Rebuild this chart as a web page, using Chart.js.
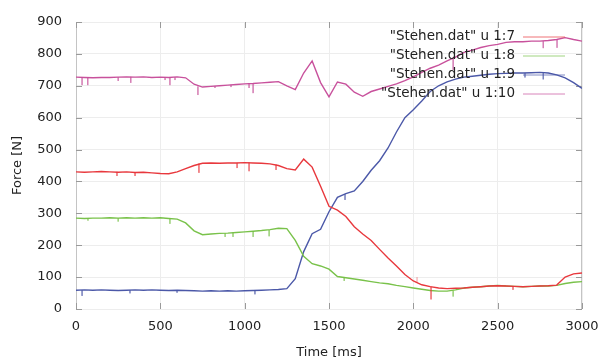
<!DOCTYPE html>
<html lang="de">
<head>
<meta charset="UTF-8">
<title>Stehen.dat</title>
<script src="https://cdn.jsdelivr.net/npm/chart.js"></script>
<style>
    html, body { margin: 0; padding: 0; background: #ffffff; }
    #wrap { width: 604px; height: 363px; }
</style>
</head>
<body>
<div id="wrap"><canvas id="forceChart" width="604" height="363"></canvas></div>
<script>
// time axis (ms), 50 ms steps
const timeMs = [
    0, 50, 100, 150, 200, 250, 300, 350, 400, 450,
    500, 550, 600, 650, 700, 750, 800, 850, 900, 950,
    1000, 1050, 1100, 1150, 1200, 1250, 1300, 1350, 1400, 1450,
    1500, 1550, 1600, 1650, 1700, 1750, 1800, 1850, 1900, 1950,
    2000, 2050, 2100, 2150, 2200, 2250, 2300, 2350, 2400, 2450,
    2500, 2550, 2600, 2650, 2700, 2750, 2800, 2850, 2900, 2950,
    3000
];

// "Stehen.dat" u 1:7
const col7 = [
    430, 429, 430, 431, 430, 429, 430, 428, 429, 427,
    425, 424, 430, 440, 450, 457, 458, 457, 458, 458,
    459, 458, 457, 455, 450, 440, 436, 470, 445, 385,
    322, 310, 290, 258, 235, 215, 187, 160, 135, 108,
    88, 76, 70, 66, 64, 65, 66, 68, 70, 72,
    73, 72, 71, 70, 71, 72, 73, 75, 100, 110,
    113
];

// "Stehen.dat" u 1:8
const col8 = [
    285, 284, 285, 285, 286, 285, 286, 285, 286, 285,
    286, 284, 282, 270, 245, 233, 235, 237, 238, 240,
    242, 244, 246, 249, 253, 252, 215, 165, 142, 135,
    125, 102, 98, 94, 90, 86, 82, 79, 74, 70,
    66, 62, 58, 56, 56, 60, 66, 68, 70, 72,
    74, 72, 71, 70, 71, 72, 72, 74, 80, 84,
    86
];

// "Stehen.dat" u 1:9
const col9 = [
    59, 60, 59, 60, 59, 58, 59, 60, 59, 60,
    59, 58, 59, 58, 57, 56, 57, 56, 57, 56,
    57, 58, 59, 60, 61, 64, 95, 180, 236, 250,
    305, 350, 362, 370, 400, 435, 465, 505, 555, 600,
    625, 652, 682, 700, 712, 721, 727, 730, 733, 736,
    738, 739, 740, 740, 741, 742, 740, 734, 725, 710,
    692
];

// "Stehen.dat" u 1:10
const col10 = [
    727, 726, 725, 726, 726, 727, 728, 727, 728, 726,
    727, 726, 728, 725, 705, 696, 698, 700, 702, 704,
    706, 707, 709, 711, 713, 700, 688, 740, 778, 710,
    665, 712, 705, 680, 667, 682, 690, 698, 706, 716,
    728, 742, 755, 765, 778, 790, 805, 812, 820, 826,
    830, 836, 838, 838, 840, 840, 842, 845, 851, 845,
    840
];

// short sensor spikes: [time, line value, spike tip]
const spikes7 = [[243, 430, 417], [350, 429, 417], [729, 456, 427], [955, 458, 442], [1026, 459, 432], [1186, 453, 436], [2022, 84, 100], [2105, 70, 30], [2591, 71, 60]];
const spikes8 = [[71, 285, 277], [250, 285, 274], [557, 284, 267], [884, 238, 226], [931, 240, 226], [1050, 244, 226], [1145, 248, 228], [1590, 99, 88], [2236, 58, 39]];
const spikes9 = [[36, 59, 41], [320, 59, 49], [599, 59, 51], [1061, 58, 46], [1595, 360, 342], [2662, 740, 726], [2770, 742, 720]];
const spikes10 = [[36, 727, 702], [70, 726, 702], [250, 727, 715], [325, 728, 709], [528, 727, 718], [557, 726, 702], [587, 727, 718], [723, 698, 671], [824, 699, 693], [919, 703, 696], [1026, 706, 693], [1050, 707, 677], [2236, 788, 750], [2770, 840, 818], [2852, 845, 819]];

const seriesNames = ['"Stehen.dat" u 1:7', '"Stehen.dat" u 1:8', '"Stehen.dat" u 1:9', '"Stehen.dat" u 1:10'];
const seriesColors = ['#e8383d', '#79c24a', '#4b58a8', '#c8519c'];
const spikeColors = ['rgba(232,56,61,0.5)', 'rgba(121,194,74,0.5)', 'rgba(75,88,168,0.5)', 'rgba(200,81,156,0.5)'];
const seriesValues = [col7, col8, col9, col10];
const seriesSpikes = [spikes7, spikes8, spikes9, spikes10];

const xTicks = [0, 500, 1000, 1500, 2000, 2500, 3000];
const yTicks = [0, 100, 200, 300, 400, 500, 600, 700, 800, 900];

const FONT = '"DejaVu Sans", Verdana, sans-serif';
const TEXT = '#222222';

// gnuplot-style key, text right-aligned with the sample line after it
const keyPlugin = {
    id: 'gnuKey',
    afterDraw(chart) {
        const { ctx, chartArea } = chart;
        ctx.save();
        ctx.font = '13.5px ' + FONT;
        ctx.textAlign = 'right';
        ctx.textBaseline = 'middle';
        chart.data.datasets.filter(ds => !ds.isSpike).forEach((ds, i) => {
            const y = chartArea.top + 14 + i * 19;
            const right = chartArea.right - 67;
            ctx.fillStyle = TEXT;
            ctx.fillText(ds.label, right, y);
            ctx.strokeStyle = ds.borderColor;
            ctx.globalAlpha = 0.7;
            ctx.lineWidth = 1;
            ctx.beginPath();
            ctx.moveTo(right + 8, y + 1);
            ctx.lineTo(right + 50, y + 1);
            ctx.stroke();
            ctx.globalAlpha = 1;
        });
        ctx.restore();
    }
};

// side borders and inward tick marks (mirrored)
const framePlugin = {
    id: 'frame',
    beforeDatasetsDraw(chart) {
        const { ctx, chartArea, scales } = chart;
        const { left, right, top, bottom } = chartArea;
        ctx.save();
        ctx.strokeStyle = '#c4c4c4';
        ctx.lineWidth = 1;
        ctx.beginPath();
        ctx.moveTo(left + 0.5, top); ctx.lineTo(left + 0.5, bottom);
        ctx.moveTo(right - 0.5, top); ctx.lineTo(right - 0.5, bottom);
        ctx.stroke();
        ctx.strokeStyle = '#9a9a9a';
        ctx.beginPath();
        xTicks.forEach(v => {
            const x = Math.round(scales.x.getPixelForValue(v)) + 0.5;
            ctx.moveTo(x, bottom); ctx.lineTo(x, bottom - 6);
            ctx.moveTo(x, top); ctx.lineTo(x, top + 6);
        });
        yTicks.forEach(v => {
            const y = Math.round(scales.y.getPixelForValue(v)) + 0.5;
            ctx.moveTo(left, y); ctx.lineTo(left + 6, y);
            ctx.moveTo(right, y); ctx.lineTo(right - 6, y);
        });
        ctx.stroke();
        ctx.restore();
    }
};

const lineSets = seriesValues.map((vals, i) => ({
    label: seriesNames[i],
    data: timeMs.map((t, j) => ({ x: t, y: vals[j] })),
    borderColor: seriesColors[i],
    borderWidth: 1.4,
    pointRadius: 0,
    tension: 0,
    fill: false
}));

// spikes drawn as separate thin strokes, broken by nulls
const spikeSets = seriesSpikes.map((list, i) => ({
    label: seriesNames[i] + ' spikes',
    isSpike: true,
    data: list.flatMap(s => [{ x: s[0], y: s[1] }, { x: s[0], y: s[2] }, { x: s[0], y: null }]),
    borderColor: spikeColors[i],
    borderWidth: 1,
    pointRadius: 0,
    spanGaps: false,
    fill: false
}));

new Chart(document.getElementById('forceChart'), {
    type: 'line',
    data: { datasets: spikeSets.concat(lineSets) },
    options: {
        responsive: false,
        devicePixelRatio: 1,
        animation: false,
        layout: { padding: { top: 22, right: 22, left: 0, bottom: 0 } },
        plugins: {
            legend: { display: false },
            tooltip: { enabled: false }
        },
        scales: {
            x: {
                type: 'linear',
                min: 0,
                max: 3000,
                afterBuildTicks: s => { s.ticks = xTicks.map(v => ({ value: v })); },
                afterFit: s => { s.height = 54; s.paddingLeft = 0; s.paddingRight = 0; },
                grid: { color: '#ededed', drawTicks: false },
                border: { display: false },
                ticks: { padding: 10, color: TEXT, font: { family: FONT, size: 13 }, callback: v => String(v) },
                title: { display: true, text: 'Time [ms]', color: TEXT, font: { family: FONT, size: 13 }, padding: { top: 0, bottom: 3 } }
            },
            y: {
                type: 'linear',
                min: 0,
                max: 900,
                afterBuildTicks: s => { s.ticks = yTicks.map(v => ({ value: v })); },
                afterFit: s => { s.width = 76; },
                grid: { color: '#ededed', drawTicks: false },
                border: { display: false },
                ticks: { padding: 14, color: TEXT, font: { family: FONT, size: 13 }, callback: v => String(v) },
                title: { display: true, text: 'Force [N]', color: TEXT, font: { family: FONT, size: 13 }, padding: { top: 10, bottom: 0 } }
            }
        }
    },
    plugins: [framePlugin, keyPlugin]
});
</script>
</body>
</html>
